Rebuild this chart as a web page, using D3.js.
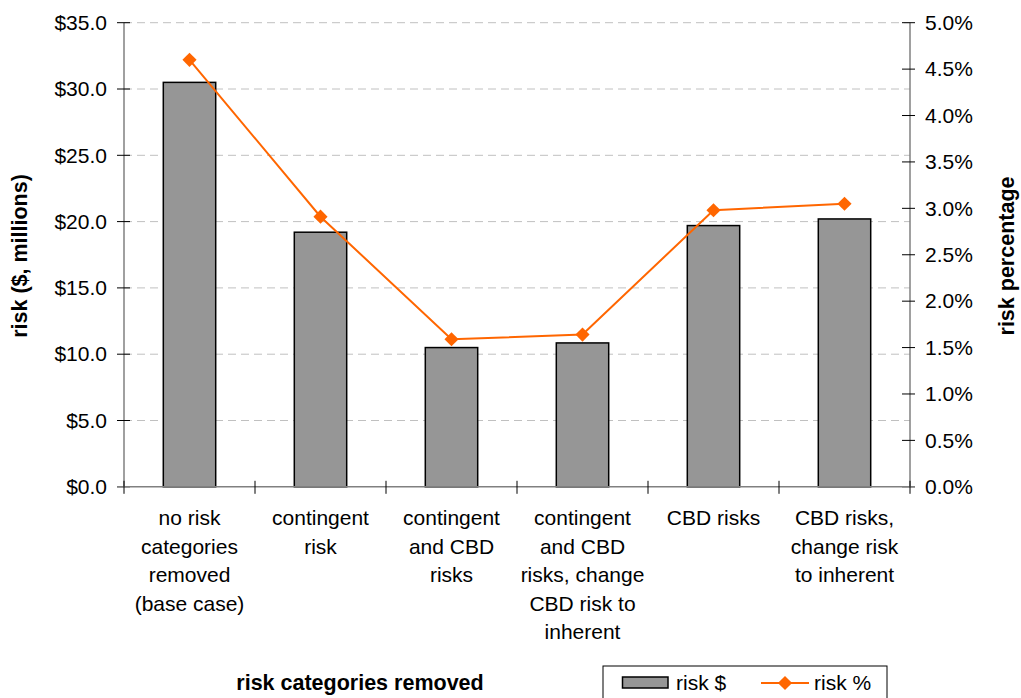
<!DOCTYPE html>
<html><head><meta charset="utf-8">
<script src="https://cdn.jsdelivr.net/npm/d3@7"></script>
<style>
html,body{margin:0;padding:0;background:#fff;}
svg{display:block;}
text{font-family:"Liberation Sans",Arial,sans-serif;fill:#000;}
</style></head>
<body>
<svg id="chart" width="1021" height="698"></svg>
<script>
const categories = [
  ["no risk","categories","removed","(base case)"],
  ["contingent","risk"],
  ["contingent","and CBD","risks"],
  ["contingent","and CBD","risks, change","CBD risk to","inherent"],
  ["CBD risks"],
  ["CBD risks,","change risk","to inherent"]
];
const riskDollars = [30.5, 19.2, 10.5, 10.85, 19.7, 20.2];
const riskPercent = [0.046, 0.0291, 0.0159, 0.0164, 0.0298, 0.0305];
const leftTicks = [0, 5, 10, 15, 20, 25, 30, 35];
const rightTicks = [0, 0.005, 0.01, 0.015, 0.02, 0.025, 0.03, 0.035, 0.04, 0.045, 0.05];
const seriesNames = ["risk $", "risk %"];
const titles = {x: "risk categories removed", yLeft: "risk ($, millions)", yRight: "risk percentage"};

const svg = d3.select("#chart");
const L = 124, R = 910, T = 22.7, B = 486.8;
const FS = 21, TFS = 21.5;

const xBand = d3.scaleBand().domain(d3.range(categories.length)).range([L, R]);
const yL = d3.scaleLinear().domain([0, 35]).range([B, T]);
const yR = d3.scaleLinear().domain([0, 0.05]).range([B, T]);

// gridlines
svg.append("g").selectAll("line").data(leftTicks.filter(d => d > 0)).join("line")
  .attr("x1", L).attr("x2", R).attr("y1", d => yL(d)).attr("y2", d => yL(d))
  .attr("stroke", "#c0c0c0").attr("stroke-width", 1).attr("stroke-dasharray", "8,5");

// bars
svg.append("g").selectAll("rect").data(riskDollars).join("rect")
  .attr("x", (d, i) => xBand(i) + xBand.bandwidth() * 0.3)
  .attr("width", xBand.bandwidth() * 0.4)
  .attr("y", d => yL(d)).attr("height", d => B - yL(d))
  .attr("fill", "#969696").attr("stroke", "#000").attr("stroke-width", 1.5);

// left axis
const axL = svg.append("g").attr("transform", `translate(${L},0)`)
  .call(d3.axisLeft(yL).tickValues(leftTicks).tickFormat(d => "$" + d3.format(".1f")(d)).tickSize(0).tickPadding(17));
axL.select(".domain").remove();
axL.selectAll("text").attr("font-size", FS).attr("font-family", "Liberation Sans, Arial, sans-serif").attr("fill", "#000");
svg.append("line").attr("x1", L).attr("x2", L).attr("y1", T).attr("y2", B).attr("stroke", "#808080").attr("stroke-width", 1.5);
svg.append("g").selectAll("line").data(leftTicks).join("line")
  .attr("x1", L - 7).attr("x2", L + 6).attr("y1", d => yL(d)).attr("y2", d => yL(d))
  .attr("stroke", "#000").attr("stroke-width", 1);

// right axis
const axR = svg.append("g").attr("transform", `translate(${R},0)`)
  .call(d3.axisRight(yR).tickValues(rightTicks).tickFormat(d3.format(".1%")).tickSize(0).tickPadding(15));
axR.select(".domain").remove();
axR.selectAll("text").attr("font-size", FS).attr("font-family", "Liberation Sans, Arial, sans-serif").attr("fill", "#000");
svg.append("line").attr("x1", R).attr("x2", R).attr("y1", T).attr("y2", B).attr("stroke", "#808080").attr("stroke-width", 1.5);
svg.append("g").selectAll("line").data(rightTicks).join("line")
  .attr("x1", R - 8).attr("x2", R + 5).attr("y1", d => yR(d)).attr("y2", d => yR(d))
  .attr("stroke", "#000").attr("stroke-width", 1);

// bottom axis
svg.append("line").attr("x1", L - 7).attr("x2", R + 5).attr("y1", B).attr("y2", B).attr("stroke", "#808080").attr("stroke-width", 1.5);
const bounds = d3.range(categories.length + 1).map(i => i < categories.length ? xBand(i) : R);
svg.append("g").selectAll("line").data(bounds).join("line")
  .attr("x1", d => d).attr("x2", d => d).attr("y1", B - 6).attr("y2", B + 7)
  .attr("stroke", "#000").attr("stroke-width", 1);

// category labels
const catG = svg.append("g");
categories.forEach((lines, i) => {
  const t = catG.append("text").attr("text-anchor", "middle").attr("font-size", FS);
  lines.forEach((ln, j) => {
    t.append("tspan").attr("x", xBand(i) + xBand.bandwidth() / 2).attr("y", 525 + j * 28.5).text(ln);
  });
});

// line series
const line = d3.line().x((d, i) => xBand(i) + xBand.bandwidth() / 2).y(d => yR(d));
svg.append("path").datum(riskPercent).attr("d", line)
  .attr("fill", "none").attr("stroke", "#FF6600").attr("stroke-width", 2);
const diamond = d3.symbol().type(d3.symbolSquare).size(100);
svg.append("g").selectAll("path").data(riskPercent).join("path")
  .attr("d", diamond)
  .attr("transform", (d, i) => `translate(${xBand(i) + xBand.bandwidth() / 2},${yR(d)}) rotate(45)`)
  .attr("fill", "#FF6600");

// axis titles
svg.append("text").attr("transform", `translate(27,256) rotate(-90)`)
  .attr("text-anchor", "middle").attr("font-size", TFS).attr("font-weight", "bold").text(titles.yLeft);
svg.append("text").attr("transform", `translate(1014,256) rotate(-90)`)
  .attr("text-anchor", "middle").attr("font-size", TFS).attr("font-weight", "bold").text(titles.yRight);
svg.append("text").attr("x", 360).attr("y", 690)
  .attr("text-anchor", "middle").attr("font-size", TFS).attr("font-weight", "bold").text(titles.x);

// legend
const lg = svg.append("g");
lg.append("rect").attr("x", 603).attr("y", 666).attr("width", 284).attr("height", 44)
  .attr("fill", "#fff").attr("stroke", "#000").attr("stroke-width", 1);
lg.append("rect").attr("x", 622.5).attr("y", 677).attr("width", 45.5).attr("height", 11)
  .attr("fill", "#969696").attr("stroke", "#000").attr("stroke-width", 1.5);
lg.append("text").attr("x", 676).attr("y", 690).attr("font-size", FS).text(seriesNames[0]);
lg.append("line").attr("x1", 761).attr("x2", 809).attr("y1", 683).attr("y2", 683)
  .attr("stroke", "#FF6600").attr("stroke-width", 2);
lg.append("path").attr("d", diamond).attr("transform", "translate(785,683) rotate(45)").attr("fill", "#FF6600");
lg.append("text").attr("x", 814).attr("y", 690).attr("font-size", FS).text(seriesNames[1]);
</script>
</body></html>
